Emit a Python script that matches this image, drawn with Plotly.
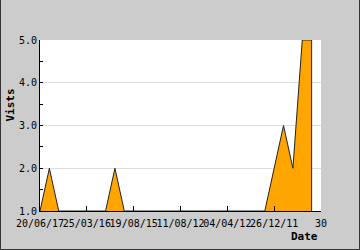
import plotly.graph_objects as go

# Data
point_index = list(range(30))
visits = [1, 2, 1, 1, 1, 1, 1, 1, 2, 1,
          1, 1, 1, 1, 1, 1, 1, 1, 1, 1,
          1, 1, 1, 1, 1, 2, 3, 2, 5, 5]
tick_positions = [0, 5, 10, 15, 20, 25, 30]
tick_labels = ["20/06/17", "25/03/16", "19/08/15", "11/08/12", "04/04/12", "26/12/11", "30"]
y_min, y_max = 1, 5

# close the outline down to the baseline at the last point
x_outline = point_index + [point_index[-1]]
y_outline = visits + [y_min]

MONO = "DejaVu Sans Mono"
W, H = 360, 250
L, R, T, B = 40, 39, 40, 39
PW, PH = W - L - R, H - T - B

def px(x):
    return (x - L) / PW

def py(y):
    return (H - B - y) / PH

fig = go.Figure()
fig.add_trace(go.Scatter(
    x=x_outline, y=y_outline, mode="lines", fill="tozeroy",
    fillcolor="#FFA500", line=dict(color="#222222", width=1),
    hoverinfo="skip", showlegend=False,
))

fig.update_layout(
    width=W, height=H,
    margin=dict(l=L, r=R, t=T, b=B),
    paper_bgcolor="#cccccc", plot_bgcolor="white",
    font=dict(family=MONO, size=10, color="black"),
    xaxis=dict(
        range=[0, 30], tickmode="array", tickvals=tick_positions, ticktext=tick_labels,
        tickangle=0, automargin=False, ticklabelstandoff=3,
        ticks="inside", ticklen=5, tickcolor="black", showgrid=False,
        showline=True, linecolor="black", linewidth=1, zeroline=False,
        tickfont=dict(family=MONO, size=10), fixedrange=True,
    ),
    yaxis=dict(
        range=[y_min, y_max], dtick=1, tickformat=".1f", automargin=False,
        ticks="inside", ticklen=3, tickcolor="black",
        minor=dict(ticks="inside", dtick=0.5, ticklen=3, tickcolor="black", showgrid=False),
        showgrid=True, gridcolor="#dddddd", gridwidth=1,
        showline=True, linecolor="black", linewidth=1, zeroline=False,
        tickfont=dict(family=MONO, size=10), fixedrange=True,
    ),
    annotations=[
        dict(text="<b>Date</b>", xref="paper", yref="paper", x=px(319.5), y=py(236),
             xanchor="right", yanchor="middle", showarrow=False,
             font=dict(family=MONO, size=11)),
        dict(text="<b>Vists</b>", xref="paper", yref="paper", x=px(10), y=py(105.5),
             xanchor="center", yanchor="middle", showarrow=False, textangle=-90,
             font=dict(family=MONO, size=11)),
    ],
    shapes=[
        dict(type="path", xref="paper", yref="paper",
             path=f"M {px(0.5)},{py(-1)} L {px(0.5)},{py(249.5)} L {px(359.5)},{py(249.5)} L {px(359.5)},{py(-1)}",
             line=dict(color="#333333", width=1)),
    ],
)

fig.write_html("out.html")
